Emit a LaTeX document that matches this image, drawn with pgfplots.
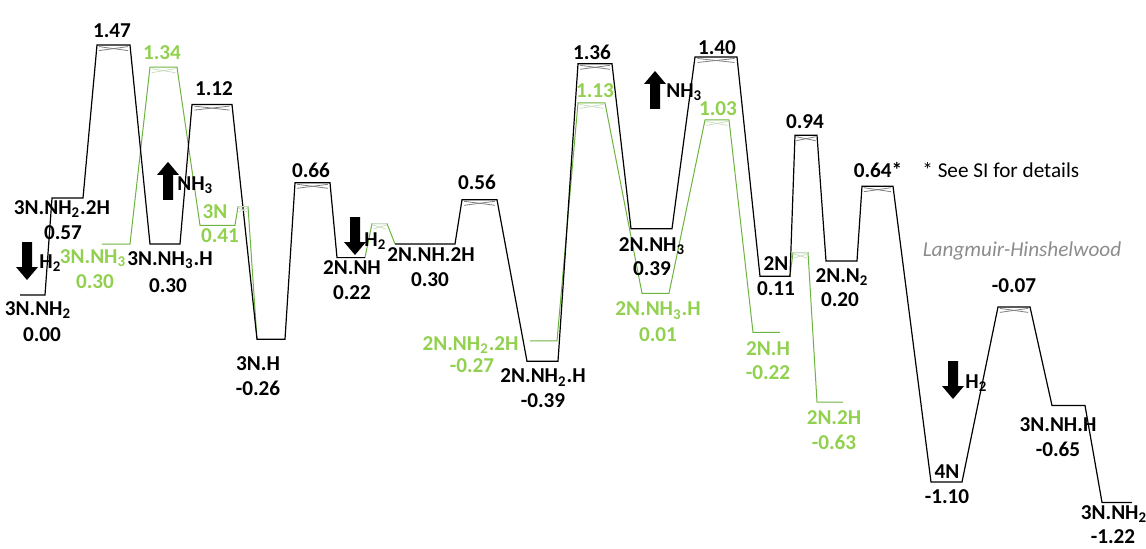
\documentclass[border=0pt]{standalone}
\usepackage{fontspec}
\setmainfont{Carlito}
\usepackage{pgfplots}
\pgfplotsset{compat=1.18}
\usepackage{pgfplotstable}

\definecolor{lvgreen}{HTML}{92D050}
\definecolor{pathgreen}{HTML}{6DB33F}
\definecolor{tsgrey}{HTML}{7F7F7F}
\definecolor{tspale}{HTML}{CCDCC2}
\definecolor{lhgrey}{HTML}{8C8C8C}

% Black pathway: each state is a short level (two points); nan breaks the line
\pgfplotstableread{
x E
20 0.00
45 0.00
52 0.57
83 0.57
97 1.47
130 1.47
150 0.30
180 0.30
192 1.12
232 1.12
257 -0.26
285 -0.26
295 0.66
330 0.66
337 0.22
365 0.22
nan nan
395 0.30
455 0.30
462 0.56
497 0.56
527 -0.39
558 -0.39
578 1.36
612 1.36
631 0.39
672 0.39
695 1.40
737 1.40
760 0.11
790 0.11
795 0.94
817 0.94
826 0.20
857 0.20
862 0.64
893 0.64
931 -1.10
962 -1.10
998 -0.07
1030 -0.07
1052 -0.65
1085 -0.65
1102 -1.22
1132 -1.22
}\blackpath

% Green (alternative) pathway
\pgfplotstableread{
x E
102 0.30
130 0.30
150 1.34
177 1.34
200 0.41
235 0.41
238 0.52
248 0.52
257 -0.26
nan nan
365 0.22
372 0.42
387 0.42
395 0.30
nan nan
530 -0.27
557 -0.27
578 1.13
605 1.13
642 0.01
669 0.01
705 1.03
729 1.03
753 -0.22
780 -0.22
nan nan
790 0.11
793 0.25
808 0.25
817 -0.63
843 -0.63
}\greenpath

\newcommand{\sub}[1]{\textsubscript{#1}}
\newcommand{\labfont}{\fontsize{10.6}{12.7}\selectfont}

% bow-tie under a transition-state bar: left x, right x, energy, colour
\newcommand{\tsmark}[4]{%
  \addplot[#4, line width=0.4pt] table[row sep=\\,
      x expr={\thisrow{a}+\thisrow{w}*(\thisrow{b}-\thisrow{a})},
      y expr={\thisrow{E}+\thisrow{o}/170}]
    {a b w E o\\ #1 #2 0.06 #3 -1.5\\ #1 #2 0.5 #3 -3.5\\ #1 #2 0.94 #3 -1.5\\};
  \addplot[#4, line width=0.4pt] table[row sep=\\,
      x expr={\thisrow{a}+\thisrow{w}*(\thisrow{b}-\thisrow{a})},
      y expr={\thisrow{E}+\thisrow{o}/170}]
    {a b w E o\\ #1 #2 0.06 #3 -5.5\\ #1 #2 0.5 #3 -3.5\\ #1 #2 0.94 #3 -5.5\\};
}

\tikzset{
  lab/.style={anchor=base, font=\labfont\bfseries, inner sep=0pt},
  glab/.style={lab, text=lvgreen},
}

% block arrows for gas molecules leaving / arriving
\newcommand{\arrowdown}[1]{\fill[shift={(#1)}] (-2.5pt,9.5pt) -- (2.5pt,9.5pt) -- (2.5pt,-3pt) -- (5.5pt,-3pt) -- (0pt,-9.5pt) -- (-5.5pt,-3pt) -- (-2.5pt,-3pt) -- cycle;}
\newcommand{\arrowup}[1]{\fill[shift={(#1)}] (-2.5pt,-9.5pt) -- (2.5pt,-9.5pt) -- (2.5pt,3pt) -- (5.5pt,3pt) -- (0pt,9.5pt) -- (-5.5pt,3pt) -- (-2.5pt,3pt) -- cycle;}

\begin{document}
\begin{tikzpicture}
\begin{axis}[
  scale only axis, width=573pt, height=274pt,
  xmin=0, xmax=1146, ymin=-1.48824, ymax=1.73529,
  hide axis, clip=false,
]
% pathways
\addplot[pathgreen, line width=0.5pt, unbounded coords=jump] table[x=x, y=E] {\greenpath};
\addplot[black, line width=0.6pt, unbounded coords=jump] table[x=x, y=E] {\blackpath};

% transition-state bow-ties
\tsmark{97}{130}{1.47}{tsgrey}
\tsmark{192}{232}{1.12}{tsgrey}
\tsmark{295}{330}{0.66}{tsgrey}
\tsmark{462}{497}{0.56}{tsgrey}
\tsmark{578}{612}{1.36}{tsgrey}
\tsmark{695}{737}{1.40}{tsgrey}
\tsmark{795}{817}{0.94}{tsgrey}
\tsmark{862}{893}{0.64}{tsgrey}
\tsmark{998}{1030}{-0.07}{tsgrey}
\tsmark{150}{177}{1.34}{tspale}
\tsmark{578}{605}{1.13}{tspale}
\tsmark{705}{729}{1.03}{tspale}
% small H2 dissociation barriers
\addplot[tspale, line width=0.8pt] coordinates {(238,0.52) (248,0.52)};
\addplot[tspale, line width=0.8pt] coordinates {(372,0.42) (387,0.42)};
\addplot[tspale, line width=0.8pt] coordinates {(793,0.25) (808,0.25)};
\tsmark{238}{248}{0.52}{tspale}
\tsmark{372}{387}{0.42}{tspale}
\tsmark{793}{808}{0.25}{tspale}

% intermediates, black pathway
\node[lab, yshift=-10.25pt] at (axis cs:38,0.00) {3N.NH\sub{2}};
\node[lab, yshift=-23.25pt] at (axis cs:42,0.00) {0.00};
\node[lab, yshift=-8.25pt] at (axis cs:62,0.57) {3N.NH\sub{2}.2H};
\node[lab, yshift=-20.75pt] at (axis cs:63,0.57) {0.57};
\node[lab, yshift=-10.75pt] at (axis cs:170,0.30) {3N.NH\sub{3}.H};
\node[lab, yshift=-24.25pt] at (axis cs:168,0.30) {0.30};
\node[lab, yshift=-15.75pt] at (axis cs:258,-0.26) {3N.H};
\node[lab, yshift=-28.25pt] at (axis cs:258,-0.26) {-0.26};
\node[lab, yshift=-8.25pt] at (axis cs:352,0.22) {2N.NH};
\node[lab, yshift=-20.75pt] at (axis cs:352,0.22) {0.22};
\node[lab, yshift=-8.75pt] at (axis cs:431,0.30) {2N.NH.2H};
\node[lab, yshift=-21.25pt] at (axis cs:430,0.30) {0.30};
\node[lab, yshift=-10.75pt] at (axis cs:543,-0.39) {2N.NH\sub{2}.H};
\node[lab, yshift=-23.25pt] at (axis cs:543,-0.39) {-0.39};
\node[lab, yshift=-11.25pt] at (axis cs:652,0.39) {2N.NH\sub{3}};
\node[lab, yshift=-23.25pt] at (axis cs:652,0.39) {0.39};
\node[lab, yshift=2.75pt] at (axis cs:776,0.11) {2N};
\node[lab, yshift=-9.75pt] at (axis cs:776,0.11) {0.11};
\node[lab, yshift=-10.75pt] at (axis cs:842,0.20) {2N.N\sub{2}};
\node[lab, yshift=-22.75pt] at (axis cs:840,0.20) {0.20};
\node[lab, yshift=1.75pt] at (axis cs:947,-1.10) {4N};
\node[lab, yshift=-10.75pt] at (axis cs:947,-1.10) {-1.10};
\node[lab, yshift=-12.75pt] at (axis cs:1058,-0.65) {3N.NH.H};
\node[lab, yshift=-25.25pt] at (axis cs:1058,-0.65) {-0.65};
\node[lab, yshift=-8.5pt] at (axis cs:1114,-1.22) {3N.NH\sub{2}};
\node[lab, yshift=-20.5pt] at (axis cs:1113,-1.22) {-1.22};

% intermediates, green pathway
\node[glab, yshift=-9.75pt] at (axis cs:93,0.30) {3N.NH\sub{3}};
\node[glab, yshift=-22.25pt] at (axis cs:95,0.30) {0.30};
\node[glab, yshift=3.25pt] at (axis cs:215,0.41) {3N};
\node[glab, yshift=-8.5pt] at (axis cs:220,0.41) {0.41};
\node[glab, anchor=base east, yshift=-4.75pt] at (axis cs:519,-0.27) {2N.NH\sub{2}.2H};
\node[glab, yshift=-15.75pt] at (axis cs:472,-0.27) {-0.27};
\node[glab, yshift=-11.25pt] at (axis cs:658,0.01) {2N.NH\sub{3}.H};
\node[glab, yshift=-24.25pt] at (axis cs:658,0.01) {0.01};
\node[glab, yshift=-11.75pt] at (axis cs:768,-0.22) {2N.H};
\node[glab, yshift=-23.75pt] at (axis cs:768,-0.22) {-0.22};
\node[glab, yshift=-11.25pt] at (axis cs:834,-0.63) {2N.2H};
\node[glab, yshift=-23.75pt] at (axis cs:834,-0.63) {-0.63};

% transition-state energies
\node[lab, yshift=3.75pt] at (axis cs:112,1.47) {1.47};
\node[glab, yshift=3.75pt] at (axis cs:162,1.34) {1.34};
\node[lab, yshift=4.75pt] at (axis cs:214,1.12) {1.12};
\node[lab, yshift=2.75pt] at (axis cs:311,0.66) {0.66};
\node[lab, yshift=5.25pt] at (axis cs:477,0.56) {0.56};
\node[lab, yshift=2.25pt] at (axis cs:592,1.36) {1.36};
\node[glab, yshift=2.75pt] at (axis cs:595,1.13) {1.13};
\node[lab, yshift=1.25pt] at (axis cs:717,1.40) {1.40};
\node[glab, yshift=2.25pt] at (axis cs:718,1.03) {1.03};
\node[lab, yshift=3.25pt] at (axis cs:805,0.94) {0.94};
\node[lab, yshift=4.25pt] at (axis cs:878,0.64) {0.64*};
\node[lab, yshift=7.25pt] at (axis cs:1014,-0.07) {-0.07};

% notes
\node[anchor=base west, inner sep=0pt, font=\labfont, yshift=4.25pt] at (axis cs:922,0.64) {* See SI for details};
\node[anchor=base, inner sep=0pt, text=lhgrey, font=\labfont\itshape] at (axis cs:1022,0.226) {Langmuir-Hinshelwood};

% gas-phase species
\coordinate (arH1) at (axis cs:27,0.2);
\node[lab, anchor=base west] at (axis cs:39,0.156) {H\sub{2}};
\coordinate (arN1) at (axis cs:168,0.671);
\node[lab, anchor=base west] at (axis cs:177,0.615) {NH\sub{3}};
\coordinate (arH2) at (axis cs:355,0.347);
\node[lab, anchor=base west] at (axis cs:364,0.285) {H\sub{2}};
\coordinate (arN2) at (axis cs:655,1.206);
\node[lab, anchor=base west] at (axis cs:666,1.162) {NH\sub{3}};
\coordinate (arH3) at (axis cs:953,-0.5);
\node[lab, anchor=base west] at (axis cs:965,-0.55) {H\sub{2}};
\end{axis}
\arrowdown{arH1}
\arrowup{arN1}
\arrowdown{arH2}
\arrowup{arN2}
\arrowdown{arH3}
\pgfresetboundingbox
\useasboundingbox (current axis.south west) rectangle (current axis.north east);
\end{tikzpicture}
\end{document}
